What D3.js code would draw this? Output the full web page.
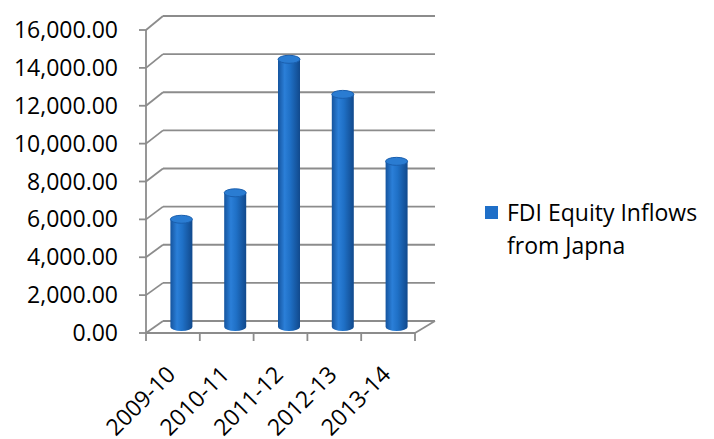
<!DOCTYPE html>
<html>
<head>
<meta charset="utf-8">
<script src="https://cdn.jsdelivr.net/npm/d3@7"></script>
<style>
  body { margin: 0; background: #fff; }
  text { font-family: "Open Sans", "Liberation Sans", sans-serif; fill: #000; }
</style>
</head>
<body>
<div id="chart"></div>
<script>
// chart data
var years = ["2009-10", "2010-11", "2011-12", "2012-13", "2013-14"];
var inflows = [5670, 7063, 14089, 12243, 8718];
var yTicks = [0, 2000, 4000, 6000, 8000, 10000, 12000, 14000, 16000];
var seriesName = ["FDI Equity Inflows", "from Japna"];

var width = 714, height = 439;
// depth offset of the 3d back wall
var depth = { "dx": 17, "dy": -12 };

var svg = d3.select("#chart")
  .append("svg")
  .attr("width", width)
  .attr("height", height);

var defs = svg.append("defs");
var grad = defs.append("linearGradient")
  .attr("id", "cyl")
  .attr("x1", "0%").attr("x2", "100%").attr("y1", "0%").attr("y2", "0%");
grad.append("stop").attr("offset", "0%").attr("stop-color", "#15549e");
grad.append("stop").attr("offset", "30%").attr("stop-color", "#2b7fd8");
grad.append("stop").attr("offset", "55%").attr("stop-color", "#1f70c6");
grad.append("stop").attr("offset", "100%").attr("stop-color", "#11498c");

var x = d3.scaleBand()
  .domain(years)
  .range([146, 415])
  .paddingInner(0)
  .paddingOuter(0);

var yFront = d3.scaleLinear().domain([0, 16000]).range([333, 30]);
var yBack = d3.scaleLinear().domain([0, 16000]).range([333 + depth.dy, 16]);
function yMid(v) { return (yFront(v) + yBack(v)) / 2; }

var grid = svg.append("g")
  .attr("stroke", "#8c8c8c")
  .attr("stroke-width", 1.8)
  .attr("fill", "none");

// back wall gridlines
grid.selectAll(".back")
  .data(yTicks)
  .enter().append("line")
  .attr("x1", 146 + depth.dx)
  .attr("x2", 435)
  .attr("y1", function(d) { return yBack(d); })
  .attr("y2", function(d) { return yBack(d); });

// side wall gridlines
grid.selectAll(".side")
  .data(yTicks)
  .enter().append("line")
  .attr("x1", 146)
  .attr("x2", 146 + depth.dx)
  .attr("y1", function(d) { return yFront(d); })
  .attr("y2", function(d) { return yBack(d); });

// floor front edge and right edge
grid.append("line")
  .attr("x1", 146).attr("x2", 415)
  .attr("y1", yFront(0)).attr("y2", yFront(0));
grid.append("line")
  .attr("x1", 415).attr("x2", 435)
  .attr("y1", yFront(0)).attr("y2", yBack(0));

// value axis
grid.append("line")
  .attr("x1", 146).attr("x2", 146)
  .attr("y1", yFront(16000)).attr("y2", yFront(0));
grid.selectAll(".ytick")
  .data(yTicks)
  .enter().append("line")
  .attr("x1", 139).attr("x2", 146)
  .attr("y1", function(d) { return yFront(d); })
  .attr("y2", function(d) { return yFront(d); });

// category ticks
var catEdges = years.map(function(d) { return x(d); }).concat([x.range()[1]]);
grid.selectAll(".xtick")
  .data(catEdges)
  .enter().append("line")
  .attr("x1", function(d) { return d; })
  .attr("x2", function(d) { return d; })
  .attr("y1", yFront(0))
  .attr("y2", yFront(0) + 8);

// y labels
var fmt = d3.format(",.2f");
svg.selectAll(".ylab")
  .data(yTicks)
  .enter().append("text")
  .attr("x", 118)
  .attr("y", function(d) { return yFront(d) + 8; })
  .attr("text-anchor", "end")
  .style("font-size", "23px")
  .text(function(d) { return fmt(d); });

// x labels, rotated
svg.selectAll(".xlab")
  .data(years)
  .enter().append("text")
  .attr("text-anchor", "end")
  .attr("transform", function(d) {
    var cx = x(d) + x.bandwidth() / 2 + 4;
    return "translate(" + cx + "," + 376 + ") rotate(-45)";
  })
  .style("font-size", "23px")
  .text(function(d) { return d; });

// cylinders
var r = 11, ry = 4;
var bars = svg.selectAll(".bar")
  .data(years)
  .enter().append("g")
  .attr("class", "bar");

bars.append("path")
  .attr("fill", "url(#cyl)")
  .attr("d", function(d, i) {
    var cx = x(d) + x.bandwidth() / 2 + depth.dx / 2;
    var top = yMid(inflows[i]);
    var bot = yMid(0);
    return "M" + (cx - r) + "," + top +
      " L" + (cx - r) + "," + bot +
      " A" + r + "," + ry + " 0 0 0 " + (cx + r) + "," + bot +
      " L" + (cx + r) + "," + top + " Z";
  });

bars.append("ellipse")
  .attr("cx", function(d) { return x(d) + x.bandwidth() / 2 + depth.dx / 2; })
  .attr("cy", function(d, i) { return yMid(inflows[i]); })
  .attr("rx", r)
  .attr("ry", ry)
  .attr("fill", "#2a7cd2")
  .attr("stroke", "#1a5fae")
  .attr("stroke-width", 1);

// legend
var legend = svg.append("g");
legend.append("rect")
  .attr("x", 485).attr("y", 206)
  .attr("width", 13).attr("height", 13)
  .attr("fill", "#1f6fc8");
legend.selectAll("text")
  .data(seriesName)
  .enter().append("text")
  .attr("x", 507)
  .attr("y", function(d, i) { return 221 + i * 33; })
  .style("font-size", "23px")
  .text(function(d) { return d; });
</script>
</body>
</html>
